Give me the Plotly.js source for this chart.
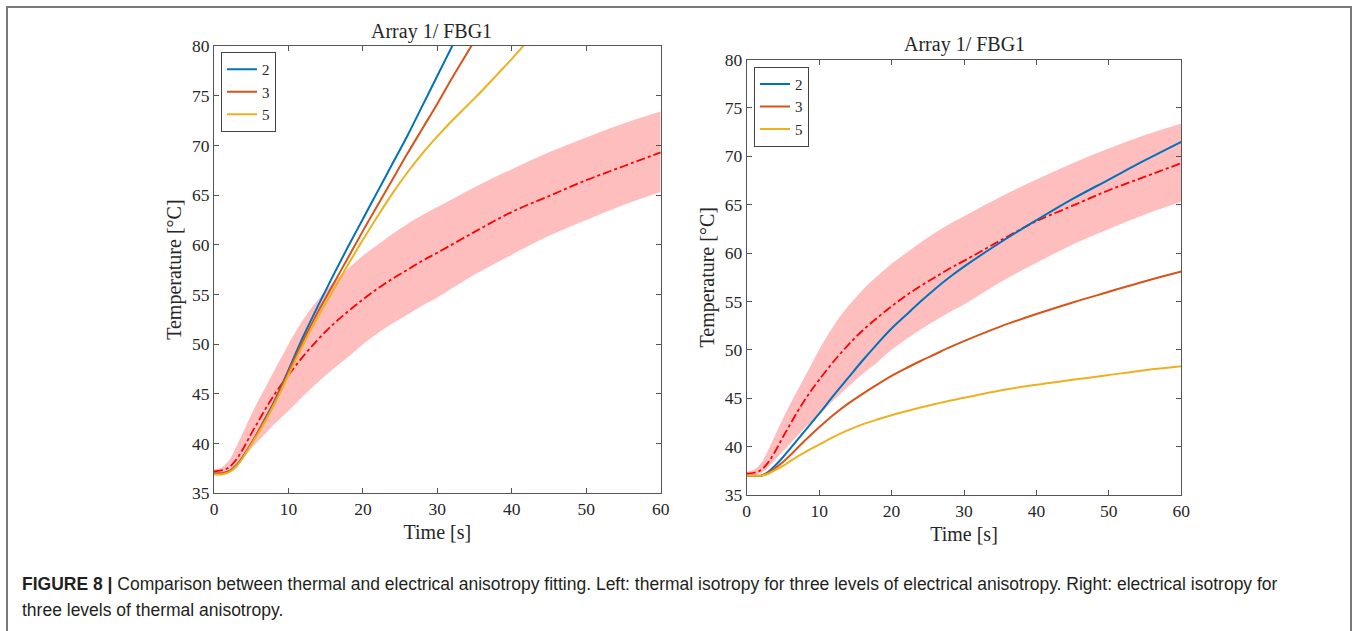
<!DOCTYPE html>
<html>
<head>
<meta charset="utf-8">
<script src="https://cdn.plot.ly/plotly-3.0.1.min.js"></script>
<style>
html,body{margin:0;padding:0;background:#fff;}
#chart{width:1352px;height:631px;}
</style>
</head>
<body>
<div id="chart"></div>
<script>
// Shared experimental mean and band (time in s, temperature in °C)
const tBand = [0,1,2,3,4,5,6,7,8,9,10,12,14,16,18,20,22,24,26,28,30,35,40,45,50,55,60];
const meanT = [37.2,37.3,37.6,38.4,39.6,41.0,42.3,43.6,44.8,45.9,46.9,48.8,50.5,52.0,53.3,54.5,55.6,56.6,57.5,58.4,59.2,61.3,63.3,64.9,66.5,67.9,69.3];
const upperT = [37.4,37.6,38.3,39.7,41.3,42.9,44.4,45.8,47.2,48.6,50.0,52.5,54.5,56.2,57.6,58.9,60.0,61.1,62.1,63.0,63.8,65.8,67.6,69.3,70.8,72.2,73.4];
const lowerT = [37.0,37.1,37.3,37.9,38.7,39.5,40.3,41.1,41.9,42.6,43.3,44.8,46.2,47.5,48.7,50.0,51.1,52.1,53.0,53.9,54.7,57.0,59.0,60.9,62.5,64.0,65.3];

// Left panel: thermal isotropy, electrical anisotropy levels 2, 3, 5
const tLeft = [0,1,2,3,4,5,6,7,8,9,10,12,14,16,18,20,22,24,26,28,30,32,34,36,38,40,42,44];
const left2 = [37.0,37.0,37.2,37.8,38.8,40.0,41.3,42.7,44.1,45.7,47.4,50.8,53.9,56.9,59.8,62.6,65.4,68.2,71.0,74.0,77.0,80.0,83.0,86.0,89.0,92.0,95.0,98.0];
const left3 = [37.0,37.0,37.2,37.8,38.8,40.0,41.3,42.6,44.0,45.6,47.2,50.4,53.3,56.0,58.7,61.4,64.0,66.6,69.2,71.7,74.2,76.8,79.3,81.8,84.3,86.8,89.3,91.8];
const left5 = [36.9,36.9,37.1,37.7,38.7,39.9,41.1,42.4,43.8,45.3,46.9,50.0,52.8,55.4,58.0,60.5,62.9,65.2,67.3,69.2,70.9,72.5,74.0,75.5,77.1,78.7,80.4,82.2];

// Right panel: electrical isotropy, thermal anisotropy levels 2, 3, 5
const tRight = [0,1,2,3,4,5,6,8,10,12,14,16,18,20,22,24,26,28,30,35,40,45,50,55,60];
const right2 = [37.0,37.0,37.0,37.4,38.1,38.9,39.8,41.6,43.4,45.3,47.1,48.9,50.6,52.2,53.6,55.0,56.3,57.5,58.6,61.1,63.4,65.6,67.6,69.6,71.5];
const right3 = [37.0,37.0,37.0,37.3,37.8,38.4,39.1,40.6,42.0,43.3,44.45,45.45,46.4,47.3,48.1,48.85,49.55,50.25,50.9,52.4,53.7,54.9,56.0,57.1,58.1];
const right5 = [37.0,37.0,37.0,37.2,37.6,38.0,38.5,39.4,40.2,41.0,41.7,42.3,42.8,43.25,43.65,44.05,44.4,44.75,45.05,45.8,46.4,46.9,47.4,47.9,48.3];

const legendNames = ['2','3','5'];
const panelTitle = 'Array 1/ FBG1';
const xTitle = 'Time [s]';
const yTitle = 'Temperature [°C]';
const xTicks = [0,10,20,30,40,50,60];
const yTicks = [35,40,45,50,55,60,65,70,75,80];
const captionLine1 = '<b>FIGURE 8 |</b> Comparison between thermal and electrical anisotropy fitting. Left: thermal isotropy for three levels of electrical anisotropy. Right: electrical isotropy for';
const captionLine2 = 'three levels of thermal anisotropy.';

const colors = ['#0072BD','#D95319','#EDB120'];
const bandColor = 'rgb(255,190,190)';
const serif = '"Liberation Serif", "DejaVu Serif", serif';
const sans = '"Liberation Sans", Arial, sans-serif';

function bandTraces(xa, ya){
  return [
    {x:tBand, y:lowerT, xaxis:xa, yaxis:ya, mode:'lines', line:{width:0, color:bandColor, shape:'spline'}, showlegend:false, hoverinfo:'skip'},
    {x:tBand, y:upperT, xaxis:xa, yaxis:ya, mode:'lines', line:{width:0, color:bandColor, shape:'spline'}, fill:'tonexty', fillcolor:bandColor, showlegend:false, hoverinfo:'skip'},
    {x:tBand, y:meanT, xaxis:xa, yaxis:ya, mode:'lines', line:{width:1.8, color:'#ff0000', dash:'dashdot', shape:'spline'}, showlegend:false}
  ];
}
function curveTraces(t, series, xa, ya, lg){
  return series.map((s,i)=>({x:t, y:s, xaxis:xa, yaxis:ya, mode:'lines', name:legendNames[i],
    line:{width:2, color:colors[i], shape:'spline'}, legend:lg}));
}

const data = [].concat(
  bandTraces('x','y'),
  curveTraces(tLeft, [left2,left3,left5], 'x','y','legend'),
  bandTraces('x2','y2'),
  curveTraces(tRight, [right2,right3,right5], 'x2','y2','legend2')
);

const W = 1352, H = 631;
const px = v => v / W;
const py = v => 1 - v / H;

function xaxisDef(domain, anchor){
  return {domain:domain, anchor:anchor, range:[0,60], tickvals:xTicks, ticks:'inside', ticklen:5,
    tickcolor:'#555', showline:true, linecolor:'#555', linewidth:1, mirror:'ticks', showgrid:false, zeroline:false,
    tickfont:{family:serif, size:17.5, color:'#262626'},
    title:{text:xTitle, font:{family:serif, size:20, color:'#262626'}, standoff:6}};
}
function yaxisDef(domain, anchor){
  return {domain:domain, anchor:anchor, range:[35,80], tickvals:yTicks, ticks:'inside', ticklen:5,
    tickcolor:'#555', showline:true, linecolor:'#555', linewidth:1, mirror:'ticks', showgrid:false, zeroline:false,
    tickfont:{family:serif, size:17.5, color:'#262626'},
    title:{text:yTitle, font:{family:serif, size:20, color:'#262626'}, standoff:4}};
}
function legendDef(x, y){
  return {x:x, y:y, xanchor:'left', yanchor:'top', bgcolor:'#fff', bordercolor:'#444', borderwidth:1,
    font:{family:serif, size:15, color:'#262626'}, tracegroupgap:0, itemwidth:30, traceorder:'normal'};
}

const layout = {
  width:W, height:H, margin:{l:0,r:0,t:0,b:0}, paper_bgcolor:'#fff', plot_bgcolor:'#fff', showlegend:true,
  xaxis: xaxisDef([px(214), px(660.7)], 'y'),
  yaxis: yaxisDef([py(493.3), py(46)], 'x'),
  xaxis2: xaxisDef([px(746.7), px(1181.3)], 'y2'),
  yaxis2: yaxisDef([py(495), py(59.6)], 'x2'),
  legend: legendDef(px(221), py(52)),
  legend2: legendDef(px(754), py(66.7)),
  annotations:[
    {xref:'paper', yref:'paper', x:px(431), y:py(31), xanchor:'center', yanchor:'middle', text:panelTitle, showarrow:false, font:{family:serif, size:20, color:'#262626'}},
    {xref:'paper', yref:'paper', x:px(964), y:py(45), xanchor:'center', yanchor:'middle', text:panelTitle, showarrow:false, font:{family:serif, size:20, color:'#262626'}},
    {xref:'paper', yref:'paper', x:px(20), y:py(584), xanchor:'left', yanchor:'middle', text:captionLine1, showarrow:false, font:{family:sans, size:17.5, color:'#231f20'}},
    {xref:'paper', yref:'paper', x:px(20), y:py(610), xanchor:'left', yanchor:'middle', text:captionLine2, showarrow:false, font:{family:sans, size:17.5, color:'#231f20'}}
  ],
  shapes:[
    {type:'rect', xref:'paper', yref:'paper', x0:px(7), x1:px(1351), y0:py(645), y1:py(7), line:{color:'#7a7a7a', width:2}, fillcolor:'rgba(0,0,0,0)', layer:'below'}
  ]
};

Plotly.newPlot('chart', data, layout, {displayModeBar:false, staticPlot:true});
</script>
</body>
</html>
